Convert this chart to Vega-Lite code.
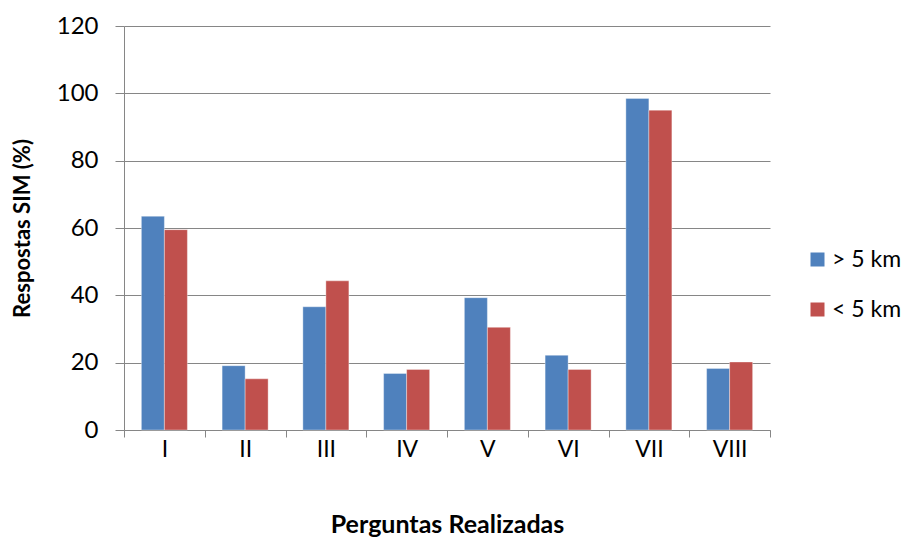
{
  "$schema": "https://vega.github.io/schema/vega-lite/v6.json",
  "autosize": {"type": "none"},
  "padding": {"left": 124, "top": 26, "right": 136, "bottom": 107},
  "width": 646,
  "height": 404,
  "background": "white",
  "config": {
    "font": "Lato",
    "view": {"stroke": null},
    "axis": {"labelFont": "Lato", "titleFont": "Lato", "labelColor": "#000000", "titleColor": "#000000"}
  },
  "data": {
    "values": [
      {"pergunta": "I", "grupo": "> 5 km", "valor": 63.5},
      {"pergunta": "I", "grupo": "< 5 km", "valor": 59.5},
      {"pergunta": "II", "grupo": "> 5 km", "valor": 19.1},
      {"pergunta": "II", "grupo": "< 5 km", "valor": 15.2},
      {"pergunta": "III", "grupo": "> 5 km", "valor": 36.6},
      {"pergunta": "III", "grupo": "< 5 km", "valor": 44.3},
      {"pergunta": "IV", "grupo": "> 5 km", "valor": 16.8},
      {"pergunta": "IV", "grupo": "< 5 km", "valor": 18.0},
      {"pergunta": "V", "grupo": "> 5 km", "valor": 39.3},
      {"pergunta": "V", "grupo": "< 5 km", "valor": 30.5},
      {"pergunta": "VI", "grupo": "> 5 km", "valor": 22.2},
      {"pergunta": "VI", "grupo": "< 5 km", "valor": 18.0},
      {"pergunta": "VII", "grupo": "> 5 km", "valor": 98.5},
      {"pergunta": "VII", "grupo": "< 5 km", "valor": 95.0},
      {"pergunta": "VIII", "grupo": "> 5 km", "valor": 18.3},
      {"pergunta": "VIII", "grupo": "< 5 km", "valor": 20.2}
    ]
  },
  "mark": {"type": "bar", "stroke": "#ffffff", "strokeWidth": 0.6, "strokeOpacity": 0.6},
  "encoding": {
    "x": {
      "field": "pergunta",
      "type": "nominal",
      "sort": ["I", "II", "III", "IV", "V", "VI", "VII", "VIII"],
      "scale": {"paddingInner": 0, "paddingOuter": 0},
      "axis": {
        "title": "Perguntas Realizadas",
        "titleFontSize": 25,
        "titleFontWeight": "bold",
        "titlePadding": 51,
        "labelAngle": 0,
        "labelFontSize": 23,
        "labelFontWeight": "normal",
        "labelPadding": 1,
        "tickBand": "extent",
        "tickSize": 7,
        "tickColor": "#868686",
        "domainColor": "#868686",
        "grid": false
      }
    },
    "xOffset": {
      "field": "grupo",
      "type": "nominal",
      "sort": ["> 5 km", "< 5 km"],
      "scale": {"paddingInner": 0, "paddingOuter": 0.755}
    },
    "y": {
      "field": "valor",
      "type": "quantitative",
      "scale": {"domain": [0, 120]},
      "axis": {
        "title": "Respostas SIM (%)",
        "titleFontSize": 22,
        "titleFontWeight": "bold",
        "titlePadding": 22,
        "values": [0, 20, 40, 60, 80, 100, 120],
        "labelFontSize": 24,
        "labelPadding": 17,
        "tickSize": 9,
        "tickColor": "#868686",
        "domainColor": "#868686",
        "gridColor": "#868686",
        "gridWidth": 1
      }
    },
    "color": {
      "field": "grupo",
      "type": "nominal",
      "sort": ["> 5 km", "< 5 km"],
      "scale": {"domain": ["> 5 km", "< 5 km"], "range": ["#4F81BD", "#C0504D"]},
      "legend": {
        "title": null,
        "orient": "none",
        "legendX": 682,
        "legendY": 222,
        "symbolType": "square",
        "symbolSize": 196,
        "symbolStrokeWidth": 0,
        "labelFontSize": 23,
        "labelFont": "Lato",
        "labelColor": "#000000",
        "rowPadding": 26,
        "labelOffset": 3
      }
    }
  }
}
